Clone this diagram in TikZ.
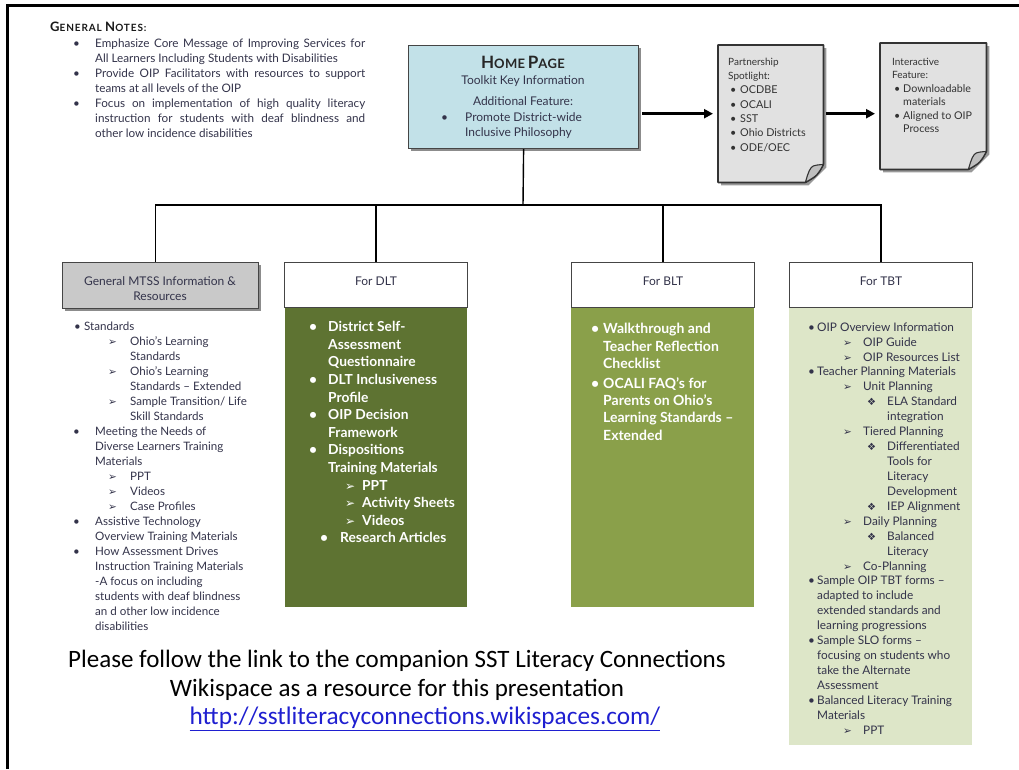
\documentclass[tikz,border=0pt]{standalone}
\usepackage{fontspec}
\setmainfont{Lato}
\newfontfamily\symf{DejaVu Sans}
\newfontfamily\calf{Carlito}
\usetikzlibrary{arrows.meta,shadows,calc}
\definecolor{homeblue}{HTML}{C2E1E8}
\definecolor{docgray}{HTML}{E1E1E1}
\definecolor{hdrgray}{HTML}{C9C9C9}
\definecolor{dltgreen}{HTML}{5E7332}
\definecolor{bltgreen}{HTML}{8AA04A}
\definecolor{tbtgreen}{HTML}{DDE6C8}
\definecolor{txtgray}{HTML}{33334A}
\definecolor{bordergray}{HTML}{454545}
\definecolor{urlblue}{HTML}{1F1FD0}
\newcommand\lnx[4]{\hspace*{#1pt}\makebox[\dimexpr#3pt-#1pt\relax][l]{#2}#4}
\newcommand\arrsym{{\symf\fontsize{10.5}{10.5}\selectfont ➢}}
\newcommand\arrbig{{\symf\fontsize{12}{12}\selectfont ➢}}
\newcommand\diasym{{\symf\fontsize{10}{10}\selectfont ❖}}
\newcommand\drawdoc[1]{%
 \fill[black!40] ($(#1.north west)+(3,3)$) -- ($(#1.north east)+(3,3)$) -- ($(#1.south east)+(3,-15)$) -- ($(#1.south east)+(-15,3)$) -- ($(#1.south west)+(3,3)$) -- cycle;
 \filldraw[fill=docgray, draw=black!80, line width=1.7pt, line join=round] (#1.north west) -- (#1.north east) -- ($(#1.south east)+(0,-18)$) .. controls ($(#1.south east)+(-6,-7)$) .. ($(#1.south east)+(-18,0)$) -- (#1.south west) -- cycle;
 \filldraw[fill=black!25, draw=black!80, line width=1.1pt, line join=round] ($(#1.south east)+(0,-18)$) .. controls ($(#1.south east)+(-11,-17)$) .. ($(#1.south east)+(-14,-12)$) .. controls ($(#1.south east)+(-16,-7)$) .. ($(#1.south east)+(-18,0)$) .. controls ($(#1.south east)+(-6,-7)$) .. cycle;
}
\tikzset{
  txt/.style={inner sep=0pt, align=left, anchor=north west, text=txtgray},
  hbox/.style={draw=bordergray, line width=1.2pt, anchor=north west, inner sep=0pt},
  conn/.style={line width=1.4pt, draw=black},
  bigarrow/.style={line width=2.6pt, -{Triangle[length=9pt,width=9pt]}, shorten >=5pt, shorten <=3pt},
  body/.style={anchor=north west, inner sep=0pt},
  lbl/.style={inner sep=0pt, text=txtgray, font=\fontsize{12}{15}\selectfont},
  shad/.style={drop shadow={shadow xshift=2.5pt, shadow yshift=-2.5pt, fill=black!45, opacity=1}},
}
\begin{document}
\begin{tikzpicture}[x=1pt,y=-1pt]
\useasboundingbox (0,0) rectangle (1019,769);
\draw[line width=3pt] (7,769) -- (7,5) -- (1019,5);

% General notes
\node[anchor=base west, inner sep=0pt, text=black!90] (gntitle) at (50,31) {\bfseries\addfontfeatures{LetterSpace=9}{\fontsize{13}{13}\selectfont G}{\fontsize{10}{10}\selectfont ENERAL} {\fontsize{13}{13}\selectfont N}{\fontsize{10}{10}\selectfont OTES:}};
\node[txt, font=\fontsize{11.7}{15}\selectfont] (gn) at (73,36.5) {%
\strut\lnx{0}{•}{22}{\makebox[270pt][s]{Emphasize Core Message of Improving Services for}}\\
\lnx{22}{}{22}{All Learners Including Students with Disabilities}\\
\lnx{0}{•}{22}{\makebox[270pt][s]{Provide OIP Facilitators with resources to support}}\\
\lnx{22}{}{22}{teams at all levels of the OIP}\\
\lnx{0}{•}{22}{\makebox[270pt][s]{Focus on implementation of high quality literacy}}\\
\lnx{22}{}{22}{\makebox[270pt][s]{instruction for students with deaf blindness and}}\\
\lnx{22}{}{22}{other low incidence disabilities}};

% Home page
\node[hbox, shad, fill=homeblue, minimum width=230pt, minimum height=103pt] (home) at (408,45) {};
\node[anchor=base, inner sep=0pt, text=black!85] (hometitle) at (523,68) {\bfseries\addfontfeatures{LetterSpace=3}{\fontsize{17}{17}\selectfont H}{\fontsize{13}{13}\selectfont OME} {\fontsize{17}{17}\selectfont P}{\fontsize{13}{13}\selectfont AGE}};
\node[anchor=base, lbl] (homesub) at (523,84) {Toolkit Key Information};
\node[anchor=base, lbl] (homeadd) at (523,105) {Additional Feature:};
\node[txt, font=\fontsize{12}{15}\selectfont] (homebul) at (441,110.5) {\strut\lnx{0}{•}{24}{Promote District-wide}\\\lnx{24}{}{24}{Inclusive Philosophy}};

% Partnership doc
\node[anchor=north west, inner sep=0pt, minimum width=105pt, minimum height=137pt] (part) at (718,45) {};
\drawdoc{part}
\node[txt, text=black!80, font=\fontsize{10.8}{14.3}\selectfont] (parttxt) at (728,55) {\strut{\fontsize{10}{14.3}\selectfont Partnership}\\{\fontsize{10}{14.3}\selectfont Spotlight:}\\
\lnx{2}{•}{12}{OCDBE}\\\lnx{2}{•}{12}{OCALI}\\\lnx{2}{•}{12}{SST}\\\lnx{2}{•}{12}{Ohio Districts}\\\lnx{2}{•}{12}{ODE/OEC}};

% Interactive doc
\node[anchor=north west, inner sep=0pt, minimum width=106pt, minimum height=126pt] (inter) at (880,43) {};
\drawdoc{inter}
\node[txt, text=black!80, font=\fontsize{10.7}{13.5}\selectfont] (intertxt) at (892,55.5) {\strut{\fontsize{10}{13.5}\selectfont Interactive}\\{\fontsize{10}{13.5}\selectfont Feature:}\\
\lnx{2}{•}{11}{Downloadable}\\\lnx{11}{}{11}{materials}\\\lnx{2}{•}{11}{Aligned to OIP}\\\lnx{11}{}{11}{Process}};

\draw[bigarrow] (home.east |- part.west) -- (part.west);
\draw[bigarrow] (part.east) -- (part.east -| inter.west);

% bodies
\node[body, fill=dltgreen, minimum width=182pt, minimum height=300pt] (dltbody) at (285,307) {};
\node[body, fill=bltgreen, minimum width=183pt, minimum height=300pt] (bltbody) at (571,307) {};
\node[body, fill=tbtgreen, minimum width=183pt, minimum height=438pt] (tbtbody) at (789,307) {};

% headers
\node[hbox, shad, fill=hdrgray, minimum width=196pt, minimum height=46pt] (mtss) at (62,262) {};
\node[lbl, align=center] (mtsslbl) at (160,288.5) {General MTSS Information \&\\Resources};
\node[hbox, fill=white, minimum width=183pt, minimum height=45pt] (dlt) at (284,262) {};
\node[lbl] (dltlbl) at (376,281) {For DLT};
\node[hbox, fill=white, minimum width=183pt, minimum height=45pt] (blt) at (571,262) {};
\node[lbl] (bltlbl) at (663,281) {For BLT};
\node[hbox, fill=white, minimum width=183pt, minimum height=45pt] (tbt) at (789,262) {};
\node[lbl] (tbtlbl) at (881,281) {For TBT};

% tree
\coordinate (bus) at (523,205);
\draw[conn] (home.south) -- (bus);
\draw[conn] (bus) -| ([xshift=-5pt]mtss.north);
\draw[conn] (bus) -| (dlt.north);
\draw[conn] (bus) -| (blt.north);
\draw[conn] (bus) -| (tbt.north);

% MTSS list
\node[txt, font=\fontsize{11.6}{15}\selectfont] (mtsslist) at (73,319.5) {%
\strut\lnx{1}{•}{11}{Standards}\\
\lnx{35}{\arrsym}{57}{Ohio's Learning}\\
\lnx{57}{}{57}{Standards}\\
\lnx{35}{\arrsym}{57}{Ohio's Learning}\\
\lnx{57}{}{57}{Standards – Extended}\\
\lnx{35}{\arrsym}{57}{Sample Transition/ Life}\\
\lnx{57}{}{57}{Skill Standards}\\
\lnx{0}{•}{22}{Meeting the Needs of}\\
\lnx{22}{}{22}{Diverse Learners Training}\\
\lnx{22}{}{22}{Materials}\\
\lnx{35}{\arrsym}{57}{PPT}\\
\lnx{35}{\arrsym}{57}{Videos}\\
\lnx{35}{\arrsym}{57}{Case Profiles}\\
\lnx{0}{•}{22}{Assistive Technology}\\
\lnx{22}{}{22}{Overview Training Materials}\\
\lnx{0}{•}{22}{How Assessment Drives}\\
\lnx{22}{}{22}{Instruction Training Materials}\\
\lnx{22}{}{22}{-A focus on including}\\
\lnx{22}{}{22}{students with deaf blindness}\\
\lnx{22}{}{22}{an d other low incidence}\\
\lnx{22}{}{22}{disabilities}};

% DLT list
\node[txt, text=white, font=\bfseries\fontsize{13.8}{17.6}\selectfont] (dltlist) at (309,319.2) {%
\strut\lnx{0}{•}{19}{District Self-}\\
\lnx{19}{}{19}{Assessment}\\
\lnx{19}{}{19}{Questionnaire}\\
\lnx{0}{•}{19}{DLT Inclusiveness}\\
\lnx{19}{}{19}{Profile}\\
\lnx{0}{•}{19}{OIP Decision}\\
\lnx{19}{}{19}{Framework}\\
\lnx{0}{•}{19}{Dispositions}\\
\lnx{19}{}{19}{Training Materials}\\
\lnx{36}{\arrbig}{53}{PPT}\\
\lnx{36}{\arrbig}{53}{Activity Sheets}\\
\lnx{36}{\arrbig}{53}{Videos}\\
\lnx{11}{•}{31}{Research Articles}};

% BLT list
\node[txt, text=white, font=\bfseries\fontsize{14}{17.3}\selectfont] (bltlist) at (591,321.4) {%
\strut\lnx{0}{•}{12}{Walkthrough and}\\
\lnx{12}{}{12}{Teacher Reflection}\\
\lnx{12}{}{12}{Checklist}\\[2.7pt]
\lnx{0}{•}{12}{OCALI FAQ's for}\\
\lnx{12}{}{12}{Parents on Ohio's}\\
\lnx{12}{}{12}{Learning Standards –}\\
\lnx{12}{}{12}{Extended}};

% TBT list
\node[txt, font=\fontsize{11.8}{14.93}\selectfont] (tbtlist) at (808,320.5) {%
\strut\lnx{0}{•}{9}{OIP Overview Information}\\
\lnx{35}{\arrsym}{55}{OIP Guide}\\
\lnx{35}{\arrsym}{55}{OIP Resources List}\\
\lnx{0}{•}{9}{Teacher Planning Materials}\\
\lnx{35}{\arrsym}{55}{Unit Planning}\\
\lnx{59}{\diasym}{79}{ELA Standard}\\
\lnx{79}{}{79}{integration}\\
\lnx{35}{\arrsym}{55}{Tiered Planning}\\
\lnx{59}{\diasym}{79}{Differentiated}\\
\lnx{79}{}{79}{Tools for}\\
\lnx{79}{}{79}{Literacy}\\
\lnx{79}{}{79}{Development}\\
\lnx{59}{\diasym}{79}{IEP Alignment}\\
\lnx{35}{\arrsym}{55}{Daily Planning}\\
\lnx{59}{\diasym}{79}{Balanced}\\
\lnx{79}{}{79}{Literacy}\\
\lnx{35}{\arrsym}{55}{Co-Planning}\\
\lnx{0}{•}{9}{Sample OIP TBT forms –}\\
\lnx{9}{}{9}{adapted to include}\\
\lnx{9}{}{9}{extended standards and}\\
\lnx{9}{}{9}{learning progressions}\\
\lnx{0}{•}{9}{Sample SLO forms –}\\
\lnx{9}{}{9}{focusing on students who}\\
\lnx{9}{}{9}{take the Alternate}\\
\lnx{9}{}{9}{Assessment}\\
\lnx{0}{•}{9}{Balanced Literacy Training}\\
\lnx{9}{}{9}{Materials}\\
\lnx{35}{\arrsym}{55}{PPT}};

% bottom note
\node[inner sep=0pt, align=center, text=black, font=\calf\fontsize{25}{29}\selectfont] (note) at (397,675.5) {Please follow the link to the companion SST Literacy Connections\\Wikispace as a resource for this presentation};
\node[inner sep=0pt, text=urlblue, font=\calf\fontsize{25.3}{25.3}\selectfont] (url) at (425,719) {\underline{http://sstliteracyconnections.wikispaces.com/}};
\end{tikzpicture}
\end{document}
